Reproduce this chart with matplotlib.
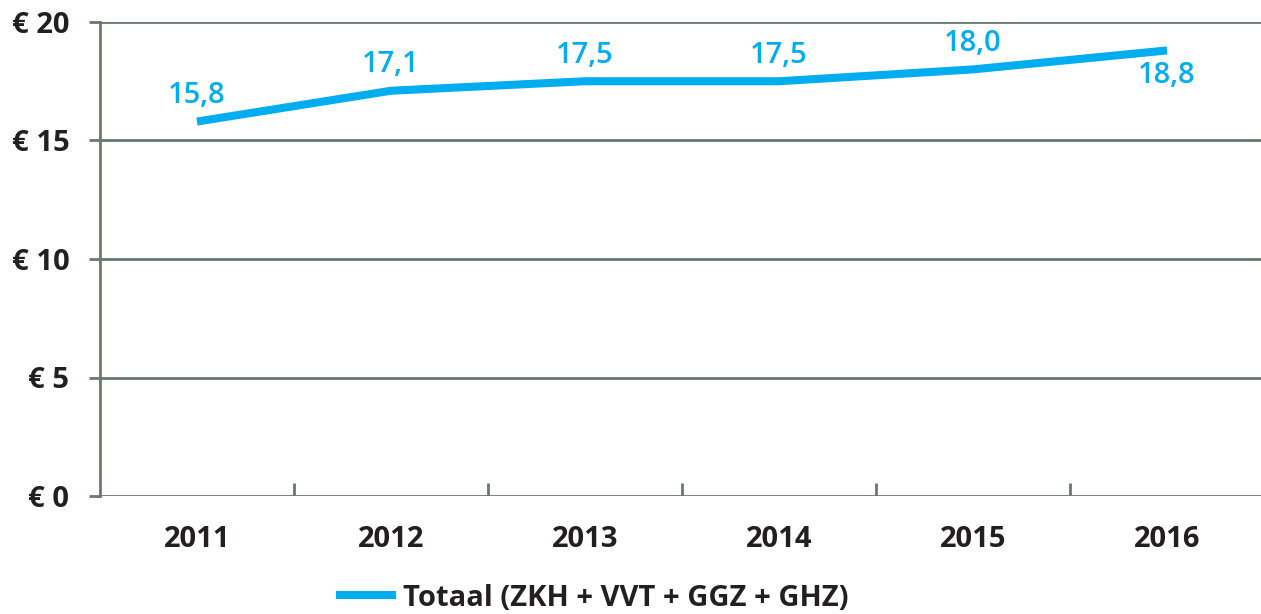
import matplotlib
matplotlib.use("Agg")
import matplotlib.pyplot as plt
from matplotlib.lines import Line2D

years = ["2011", "2012", "2013", "2014", "2015", "2016"]
values = [15.8, 17.1, 17.5, 17.5, 18.0, 18.8]
value_labels = ["15,8", "17,1", "17,5", "17,5", "18,0", "18,8"]
y_ticks = [0, 5, 10, 15, 20]
y_tick_labels = ["€ 0", "€ 5", "€ 10", "€ 15", "€ 20"]
series_name = "Totaal (ZKH + VVT + GGZ + GHZ)"

BLUE = "#00AEEF"
GRID = "#68786d"
TEXT = "#231f20"
W, H = 1261, 614

plt.rcParams['font.family'] = ['Open Sans', 'DejaVu Sans']
fig = plt.figure(figsize=(W / 100, H / 100), dpi=100)
left, right, top, bottom = 100, 1261, 22, 496
ax = fig.add_axes([left / W, 1 - bottom / H, (right - left) / W, (bottom - top) / H])

x = list(range(len(years)))
ax.plot(x, values, color=BLUE, lw=5.8, solid_capstyle='butt', zorder=3)

ax.set_ylim(0, 20)
ax.set_xlim(-0.5, -0.5 + (right - left) / 194.0)
ax.set_yticks(y_ticks)
ax.set_yticklabels(y_tick_labels, fontsize=21, fontweight='bold', color=TEXT)
ax.tick_params(axis='y', length=8, width=2, color=GRID, pad=14)
for yv in y_ticks:
    ax.axhline(yv, color=GRID, lw=2, zorder=1)

ax.set_xticks(x)
ax.set_xticklabels(years, fontsize=21, fontweight='bold', color=TEXT)
ax.tick_params(axis='x', length=0, pad=21)
for b in range(1, len(years)):
    ax.plot([b - 0.5, b - 0.5], [0, 0.55], color=GRID, lw=2, zorder=1, solid_capstyle='butt')

for s in ['top', 'right', 'bottom']:
    ax.spines[s].set_visible(False)
ax.spines['left'].set_color(GRID)
ax.spines['left'].set_linewidth(2)

for i, (v, lab) in enumerate(zip(values, value_labels)):
    off = 26 if i < len(values) - 1 else -25
    ax.annotate(lab, (i, v), xytext=(0, off), textcoords='offset pixels',
                ha='center', va='center', fontsize=21, fontweight='semibold', color=BLUE)

handle = Line2D([0], [0], color=BLUE, lw=5.8)
leg = fig.legend([handle], [series_name], loc='center', bbox_to_anchor=(594 / W, 1 - 598 / H),
                 frameon=False, handlelength=1.8, handletextpad=0.35,
                 prop={'size': 21, 'weight': 'bold'})
for t in leg.get_texts():
    t.set_color(TEXT)

fig.savefig("out.png", dpi=100)
